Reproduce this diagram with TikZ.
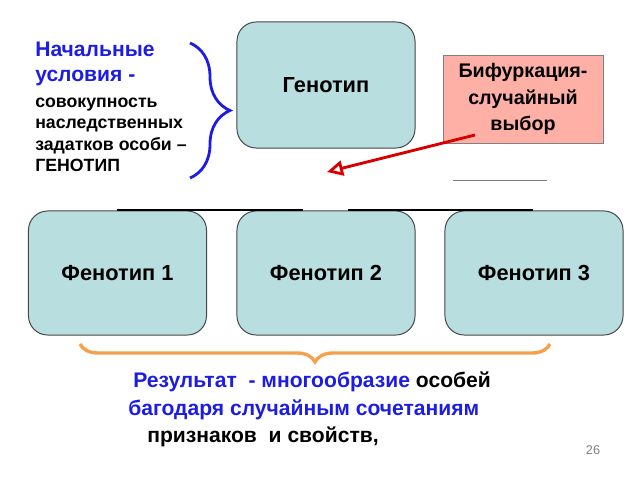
\documentclass[tikz,border=0pt]{standalone}
\usepackage{fontspec}
\setmainfont{Liberation Sans}
\usetikzlibrary{positioning,arrows.meta,decorations.pathreplacing}
\definecolor{boxfill}{RGB}{184,222,224}
\definecolor{boxline}{RGB}{70,70,70}
\definecolor{bifill}{RGB}{255,176,166}
\definecolor{txtblue}{RGB}{28,28,228}
\definecolor{brorange}{RGB}{245,160,75}

\begin{document}
\begin{tikzpicture}[x=0.025cm, y=-0.025cm, >=latex]
      \tikzstyle{phen} = [draw=boxline, fill=boxfill, rounded corners=0.48cm, line width=0.7pt, minimum width=4.45cm, minimum height=3.1cm, font=\fontsize{15.5}{18}\selectfont\bfseries]
      \tikzstyle{bif} = [draw=gray, fill=bifill, line width=0.5pt, minimum width=4cm, minimum height=2.2cm, align=center, font=\fontsize{14}{19}\selectfont\bfseries]
      \tikzstyle{txt} = [inner sep=0pt, anchor=west, align=left]
      \useasboundingbox (0,0) rectangle (640,480);

      \node [phen, minimum height=3.15cm] (gen) at (326,85) {Генотип};
      \node [bif] (bif) at (523,99) {Бифуркация-\\случайный\\выбор};
      \node [phen] (ph1) at (117.5,273) {Фенотип 1};
      \node [phen] (ph2) at (326,273) {Фенотип 2};
      \node [phen] (ph3) at (534,273) {Фенотип 3};

      % left text
      \node [txt, text=txtblue, font=\fontsize{15}{17.8}\selectfont\bfseries] (init) at (35,64) {Начальные\\условия -};
      \node [txt, font=\fontsize{12.6}{15.2}\selectfont\bfseries] (desc) at (35,135) {совокупность\\наследственных\\задатков особи –\\ГЕНОТИП};

      % bottom text
      \node [txt, font=\fontsize{15}{17}\selectfont\bfseries] (res1) at (133,382) {\textcolor{txtblue}{Результат\ \ - многообразие} особей};
      \node [txt, text=txtblue, font=\fontsize{15}{17}\selectfont\bfseries] (res2) at (128,410) {багодаря случайным сочетаниям};
      \node [txt, font=\fontsize{15}{17}\selectfont\bfseries] (res3) at (147,437) {признаков\ \ и свойств,};
      \node [text=gray, font=\fontsize{9}{11}\selectfont] (page) at (593,450) {26};

      % braces
      \coordinate (bt) at (190,43);
      \coordinate (bb) at (190,178);
      \draw [txtblue, line width=2pt, decorate, decoration={brace, amplitude=1cm}] (bt) -- (bb);
      \coordinate (ol) at (80,344);
      \coordinate (or) at (550,344);
      \draw [brorange, line width=2.4pt, decorate, decoration={brace, amplitude=0.45cm}] (or) -- (ol);

      % arrow and lines
      \coordinate (rs) at (475,135);
      \coordinate (rt) at (327,172);
      \draw [-{Triangle[open, length=0.4cm, width=0.38cm]}, red!85!black, line width=2pt] (rs) -- (rt);
      \coordinate (l1) at (117,210);
      \coordinate (l2) at (303,210);
      \coordinate (l3) at (348,210);
      \coordinate (l4) at (533,210);
      \coordinate (s1) at (453,180);
      \coordinate (s2) at (547,180);
      \draw [line width=1pt] (l1) -- (l2);
      \draw [line width=1pt] (l3) -- (l4);
      \draw [gray, line width=0.6pt] (s1) -- (s2);
    \end{tikzpicture}
\end{document}
